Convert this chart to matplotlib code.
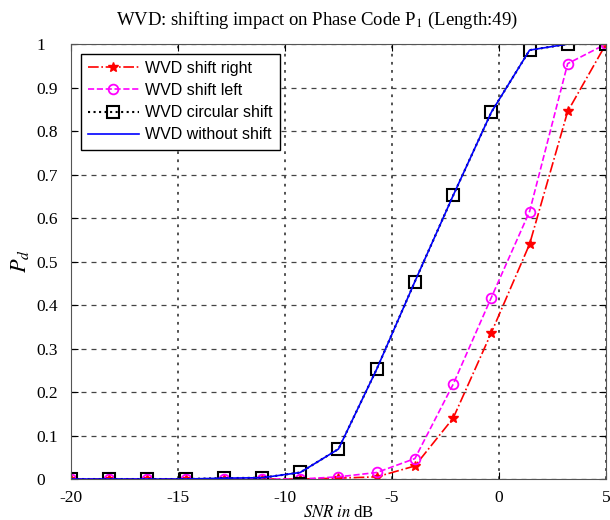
import numpy as np
import matplotlib.pyplot as plt

plt.rcParams['mathtext.fontset'] = 'stix'
plt.rcParams['axes.unicode_minus'] = False

snr = [-20, -18.21, -16.43, -14.64, -12.86, -11.07, -9.29, -7.5,
       -5.71, -3.93, -2.14, -0.36, 1.43, 3.21, 5]

pd_right = [0, 0, 0, 0, 0, 0, 0, 0.002, 0.005, 0.03, 0.14, 0.336, 0.54, 0.845, 1.0]
pd_left = [0, 0, 0, 0, 0, 0, 0, 0.005, 0.015, 0.047, 0.218, 0.417, 0.615, 0.955, 1.0]
pd_circ = [0, 0, 0, 0, 0.002, 0.003, 0.015, 0.069, 0.253, 0.454, 0.652, 0.843, 0.986, 1.0, 1.0]
pd_none = [0, 0, 0, 0, 0.002, 0.003, 0.015, 0.069, 0.253, 0.454, 0.652, 0.843, 0.986, 1.0, 1.0]

ytick_labels = ['0', '0.1', '0.2', '0.3', '0.4', '0.5', '0.6', '0.7', '0.8', '0.9', '1']

serif = ['Liberation Serif', 'DejaVu Serif']
sans = ['Liberation Sans', 'DejaVu Sans']

fig = plt.figure(figsize=(6.1, 5.2), dpi=100)
ax = fig.add_axes([0.1164, 0.0788, 0.877, 0.8365])

ax.plot(snr, pd_right, '-.', color='red', marker='*', ms=7, lw=1.2, label='WVD shift right')
ax.plot(snr, pd_left, '--', color='magenta', marker='o', mfc='none', ms=7, mew=1.3, lw=1.2,
        label='WVD shift left')
ax.plot(snr, pd_circ, ':', color='black', marker='s', mfc='none', ms=8, mew=1.5, lw=1.5,
        label='WVD circular shift')
ax.plot(snr, pd_none, '-', color='blue', lw=1.2, label='WVD without shift')

ax.set_xlim(-20, 5)
ax.set_ylim(0, 1)
ax.set_xticks([-20, -15, -10, -5, 0, 5])
ax.set_yticks(np.arange(0, 1.01, 0.1))
ax.set_yticklabels(ytick_labels)
ax.yaxis.grid(True, linestyle=(0, (4, 4)), color='#444444', lw=0.9)
ax.xaxis.grid(True, linestyle=(0, (1.5, 3)), color='#444444', lw=1.3)
ax.tick_params(direction='in', top=True, right=True, length=5, labelsize=12.5)
ax.tick_params(axis='x', pad=8)
ax.tick_params(axis='y', pad=25)
for lab in ax.get_xticklabels() + ax.get_yticklabels():
    lab.set_family(serif)
for lab in ax.get_yticklabels():
    lab.set_horizontalalignment('left')
for s in ax.spines.values():
    s.set_color('#555555')

fig.text(317 / 610, 1 - 20 / 520, 'WVD: shifting impact on Phase Code P$_1$ (Length:49)',
         family=serif, fontsize=13.5, ha='center', va='center')
ax.set_ylabel('$P_d$', fontsize=16, family=serif, labelpad=4)
ax.set_xlabel(r'$SNR\ in$ dB', fontsize=12, family=serif, labelpad=-1)

leg = ax.legend(loc='upper left', prop={'family': sans, 'size': 11.5}, fancybox=False,
                edgecolor='black', framealpha=1, borderaxespad=0.6, handlelength=3.2,
                labelspacing=0.45, borderpad=0.45, handletextpad=0.4)
leg.get_frame().set_linewidth(1.0)

fig.savefig('out.png', dpi=100)
